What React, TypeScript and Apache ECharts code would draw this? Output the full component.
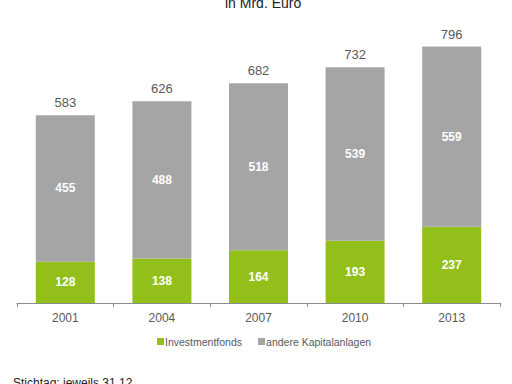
import React, { useEffect, useRef } from "react";
import * as echarts from "echarts";

const categories = ["2001", "2004", "2007", "2010", "2013"];
const investmentfonds = [128, 138, 164, 193, 237];
const andere = [455, 488, 518, 539, 559];
const totals = [583, 626, 682, 732, 796];

export default function App() {
  const ref = useRef<HTMLDivElement>(null);
  useEffect(() => {
    if (!ref.current) return;
    const chart = echarts.init(ref.current, undefined, { renderer: "svg" });
    const font = "'Liberation Sans', Arial, sans-serif";
    chart.setOption({
      animation: false,
      backgroundColor: "#ffffff",
      textStyle: { fontFamily: font },
      grid: { left: 17, right: 12, top: 13, bottom: 81, containLabel: false },
      xAxis: {
        type: "category",
        data: categories,
        axisLine: { lineStyle: { color: "#8c8c8c", width: 1 } },
        axisTick: { show: true, length: 4, inside: false, lineStyle: { color: "#8c8c8c" } },
        axisLabel: { color: "#595959", fontSize: 12, margin: 9, fontFamily: font },
      },
      yAxis: {
        type: "value",
        min: 0,
        max: 900,
        show: false,
        splitLine: { show: false },
      },
      legend: {
        data: ["Investmentfonds", "andere Kapitalanlagen"],
        bottom: 32,
        left: 152,
        icon: "rect",
        itemWidth: 7,
        itemHeight: 7,
        itemGap: 16,
        textStyle: { color: "#595959", fontSize: 10.5, fontFamily: font, padding: [0, 0, 0, -4] },
      },
      graphic: [
        {
          type: "text",
          left: 225,
          top: -4,
          style: { text: "in Mrd. Euro", fill: "#222222", fontSize: 14, fontFamily: font },
        },
        {
          type: "text",
          left: 13,
          top: 377,
          style: { text: "Stichtag: jeweils 31.12.", fill: "#222222", fontSize: 12, fontFamily: font },
        },
      ],
      series: [
        {
          name: "Investmentfonds",
          type: "bar",
          stack: "a",
          barWidth: 59,
          data: investmentfonds,
          itemStyle: { color: "#92bf1a" },
          label: { show: true, position: "inside", color: "#ffffff", fontWeight: "bold", fontSize: 12, fontFamily: font },
        },
        {
          name: "andere Kapitalanlagen",
          type: "bar",
          stack: "a",
          barWidth: 59,
          data: andere,
          itemStyle: { color: "#a5a5a5" },
          label: { show: true, position: "inside", color: "#ffffff", fontWeight: "bold", fontSize: 12, fontFamily: font },
        },
        {
          name: "total",
          type: "bar",
          stack: "a",
          barWidth: 59,
          data: totals.map(() => 0),
          itemStyle: { color: "transparent" },
          label: {
            show: true,
            position: "top",
            distance: 6,
            color: "#595959",
            fontSize: 13,
            fontFamily: font,
            formatter: (p: any) => String(totals[p.dataIndex]),
          },
        },
      ],
    });
    return () => chart.dispose();
  }, []);
  return <div ref={ref} style={{ width: 512, height: 384, position: "absolute", left: 0, top: 0 }} />;
}
